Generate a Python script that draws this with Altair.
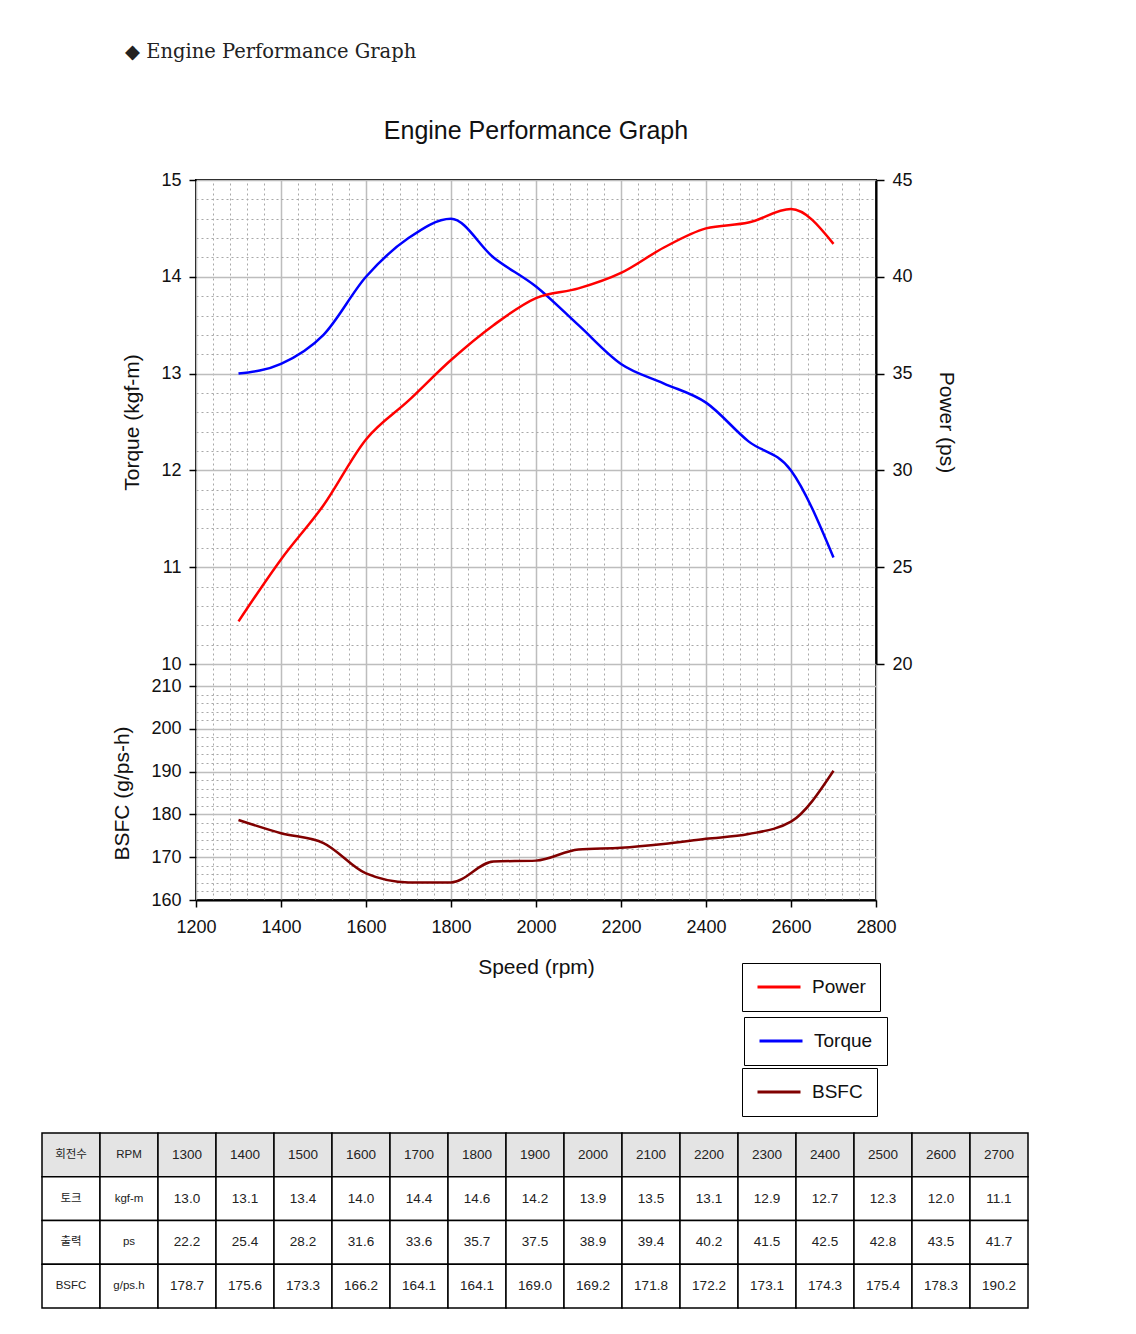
import altair as alt
import pandas as pd

# ---- data ----
rpm = [1300, 1400, 1500, 1600, 1700, 1800, 1900, 2000, 2100, 2200, 2300, 2400, 2500, 2600, 2700]
torque = [13.0, 13.1, 13.4, 14.0, 14.4, 14.6, 14.2, 13.9, 13.5, 13.1, 12.9, 12.7, 12.3, 12.0, 11.1]
power = [22.2, 25.4, 28.2, 31.6, 33.6, 35.7, 37.5, 38.9, 39.4, 40.2, 41.5, 42.5, 42.8, 43.5, 41.7]
bsfc = [178.7, 175.6, 173.3, 166.2, 164.1, 164.1, 169.0, 169.2, 171.8, 172.2, 173.1, 174.3, 175.4, 178.3, 190.2]

row_names = ["회전수", "토크", "출력", "BSFC"]
row_units = ["RPM", "kgf-m", "ps", "g/ps.h"]

series_names = ["Power", "Torque", "BSFC"]
series_colors = ["#ff0000", "#0000ff", "#800000"]

x_ticks = [1200, 1400, 1600, 1800, 2000, 2200, 2400, 2600, 2800]
torque_ticks = [10, 11, 12, 13, 14, 15]
power_ticks = [20, 25, 30, 35, 40, 45]
bsfc_ticks = [160, 170, 180, 190, 200, 210]

header_text = "◆ Engine Performance Graph"
title_text = "Engine Performance Graph"

# ---- layout / style ----
W, H = 680, 720
FONT = "Liberation Sans"
KFONT = "Liberation Sans, Noto Sans CJK KR"
GRID_MAJOR = "#bdbdbd"
GRID_MINOR = "#a8a8a8"

x_minor = [v for v in range(1240, 2800, 40) if v % 200 != 0]
torque_minor = [round(10 + i * 0.2, 1) for i in range(1, 25) if i % 5 != 0]
bsfc_minor = [v for v in range(162, 210, 2) if v % 10 != 0] + [212, 214]

x_scale = alt.Scale(domain=[1200, 2800], nice=False)
torque_scale = alt.Scale(domain=[10, 15], range=[484, 0], nice=False)
power_scale = alt.Scale(domain=[20, 45], range=[484, 0], nice=False)
bsfc_scale = alt.Scale(domain=[160, 210], range=[720, 506], nice=False)

df_t = pd.DataFrame({"rpm": rpm, "v": torque, "series": series_names[1]})
df_p = pd.DataFrame({"rpm": rpm, "v": power, "series": series_names[0]})
df_b = pd.DataFrame({"rpm": rpm, "v": bsfc, "series": series_names[2]})

# invisible layers carrying the x axes (full-height grids)
x_minor_layer = alt.Chart(df_t).mark_point(opacity=0).encode(
    x=alt.X("rpm:Q", scale=x_scale, axis=alt.Axis(
        orient="bottom", values=x_minor, grid=True, gridColor=GRID_MINOR, gridDash=[2, 3],
        gridWidth=1, labels=False, ticks=False, domain=False, title=None)),
    y=alt.value(0),
)
x_major_layer = alt.Chart(df_t).mark_point(opacity=0).encode(
    x=alt.X("rpm:Q", scale=x_scale, axis=alt.Axis(
        orient="bottom", values=x_ticks, format="d", title="Speed (rpm)", grid=True,
        gridColor=GRID_MAJOR, gridWidth=1.5, tickSize=7, tickColor="black", tickWidth=1.5,
        labelPadding=11, labelFlush=False, titlePadding=20, domain=True,
        domainColor="black", domainWidth=2)),
    y=alt.value(0),
)
# invisible layers carrying the minor horizontal grids
minor_t = alt.Chart(df_t).mark_point(opacity=0).encode(
    x=alt.X("rpm:Q", scale=x_scale, axis=None),
    y=alt.Y("v:Q", scale=torque_scale, axis=alt.Axis(
        orient="left", values=torque_minor, grid=True, gridColor=GRID_MINOR, gridDash=[2, 3],
        gridWidth=1, labels=False, ticks=False, domain=False, title=None)),
)
minor_b = alt.Chart(df_b).mark_point(opacity=0).encode(
    x=alt.X("rpm:Q", scale=x_scale, axis=None),
    y=alt.Y("v:Q", scale=bsfc_scale, axis=alt.Axis(
        orient="left", values=bsfc_minor, grid=True, gridColor=GRID_MINOR, gridDash=[2, 3],
        gridWidth=1, labels=False, ticks=False, domain=False, title=None)),
)


def legend_for(lx, ly, extra):
    return alt.Legend(
        orient="none", legendX=lx, legendY=ly, strokeColor="black", padding=14,
        symbolType="stroke", symbolSize=1849, symbolStrokeWidth=3, clipHeight=20,
        labelFont=FONT, labelFontSize=19, labelColor="#111", labelOffset=10,
        labelExpr="datum.label + '" + "\u00a0" * extra + "'",
    )


torque_line = alt.Chart(df_t).mark_line(strokeWidth=2.5, interpolate="monotone").encode(
    x=alt.X("rpm:Q", scale=x_scale, axis=None),
    y=alt.Y("v:Q", scale=torque_scale, axis=alt.Axis(
        orient="left", values=torque_ticks, format="d", title="Torque (kgf-m)", grid=True,
        gridColor=GRID_MAJOR, gridWidth=1.5, tickSize=7, tickColor="black", tickWidth=1.5,
        labelPadding=8, titlePadding=18, domain=False)),
    color=alt.Color("series:N", title=None,
                    scale=alt.Scale(domain=[series_names[1]], range=[series_colors[1]]),
                    legend=legend_for(548, 837, 0)),
)

power_line = alt.Chart(df_p).mark_line(strokeWidth=2.5, interpolate="monotone").encode(
    x=alt.X("rpm:Q", scale=x_scale, axis=None),
    y=alt.Y("v:Q", scale=power_scale, axis=alt.Axis(
        orient="right", values=power_ticks, format="d", title="Power (ps)", grid=False,
        tickSize=8, tickColor="black", tickWidth=1.5, labelPadding=8, titlePadding=23,
        domain=True, domainColor="black", domainWidth=2)),
    color=alt.Color("series:N", title=None,
                    scale=alt.Scale(domain=[series_names[0]], range=[series_colors[0]]),
                    legend=legend_for(546, 783, 3)),
)

bsfc_line = alt.Chart(df_b).mark_line(strokeWidth=2.5, interpolate="monotone").encode(
    x=alt.X("rpm:Q", scale=x_scale, axis=None),
    y=alt.Y("v:Q", scale=bsfc_scale, axis=alt.Axis(
        orient="left", values=bsfc_ticks, format="d", title="BSFC (g/ps-h)", grid=True,
        gridColor=GRID_MAJOR, gridWidth=1.5, tickSize=7, tickColor="black", tickWidth=1.5,
        labelPadding=8, titlePadding=18, domain=False)),
    color=alt.Color("series:N", title=None,
                    scale=alt.Scale(domain=[series_names[2]], range=[series_colors[2]]),
                    legend=legend_for(546, 888, 4)),
)

# ---- table ----
cells = []
value_rows = [rpm, torque, power, bsfc]
for r in range(4):
    cells.append({"row": r, "col": 0, "txt": row_names[r]})
    cells.append({"row": r, "col": 1, "txt": row_units[r]})
    for i, v in enumerate(value_rows[r]):
        txt = str(v) if r == 0 else f"{v:.1f}"
        cells.append({"row": r, "col": i + 2, "txt": txt})
df_cells = pd.DataFrame(cells)

tx = alt.X("col:O", scale=alt.Scale(domain=list(range(17)), range=[-154, 832],
                                     paddingInner=0, paddingOuter=0), axis=None)
ty = alt.Y("row:O", scale=alt.Scale(domain=[0, 1, 2, 3], range=[953, 1128],
                                     paddingInner=0, paddingOuter=0), axis=None)

table_rect = alt.Chart(df_cells).mark_rect(stroke="black", strokeWidth=1.5).encode(
    x=tx, y=ty,
    fill=alt.condition("datum.row == 0", alt.value("#e4e4e4"), alt.value("white")),
)
table_text = alt.Chart(df_cells).mark_text(font=KFONT, color="#222").encode(
    x=tx, y=ty, text="txt:N",
    size=alt.condition("datum.col < 2", alt.value(11.5), alt.value(13.5)),
)

header = alt.Chart(pd.DataFrame({"t": [header_text]})).mark_text(
    align="left", baseline="middle", font="DejaVu Serif", fontSize=19.5, color="#222"
).encode(x=alt.value(-71), y=alt.value(-128), text="t:N")

title = alt.Chart(pd.DataFrame({"t": [title_text]})).mark_text(
    align="center", baseline="middle", font=FONT, fontSize=25, color="#111"
).encode(x=alt.value(W / 2), y=alt.value(-49), text="t:N")

chart = alt.layer(
    x_minor_layer, x_major_layer, minor_t, minor_b, torque_line, power_line, bsfc_line,
    table_rect, table_text, header, title,
).resolve_scale(
    x="independent", y="independent", color="independent"
).properties(
    width=W, height=H,
    autosize=alt.AutoSizeParams(type="none"),
    padding={"left": 196, "top": 180, "right": 260, "bottom": 434},
).configure_axis(
    labelFont=FONT, labelFontSize=18, labelColor="#111",
    titleFont=FONT, titleFontSize=21, titleFontWeight="normal", titleColor="#111",
).configure_view(
    stroke="black", strokeWidth=2,
)

chart.save("out.html", embed_options={"renderer": "svg", "actions": False})
